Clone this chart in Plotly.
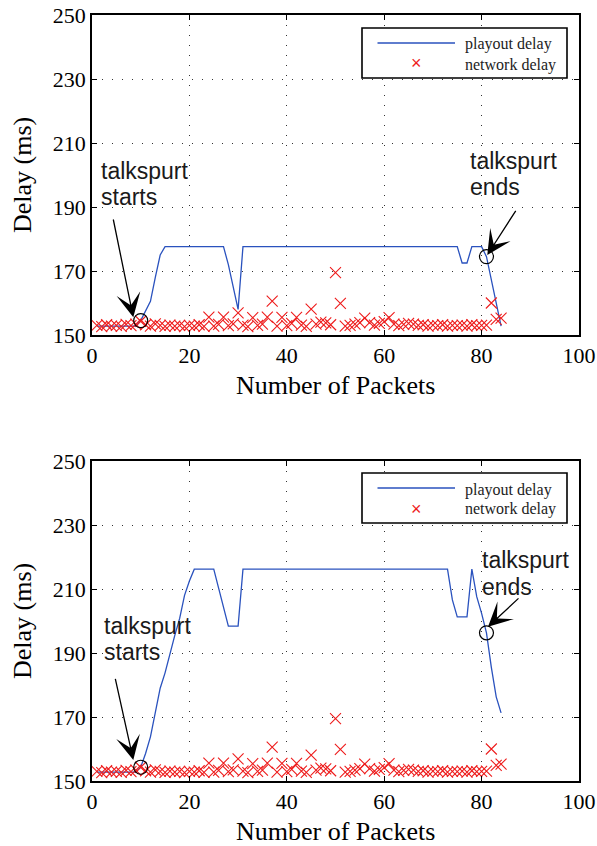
import plotly.graph_objects as go

W, H = 597, 846

# ---------------- data ----------------
packets = list(range(1, 85))

network_delay = [
    153.0, 152.6, 153.2, 152.8, 153.0, 152.7, 153.3, 152.9, 153.4, 154.3,
    153.2, 152.8, 153.5, 153.0, 152.7, 153.1, 152.8, 153.0, 152.6, 153.0,
    152.8, 153.2, 152.7, 155.6, 152.8, 153.3, 155.6, 152.9, 153.5, 156.9,
    153.1, 152.6, 155.4, 153.0, 153.4, 155.6, 160.6, 152.8, 155.5, 152.9,
    153.6, 155.5, 153.1, 152.7, 158.1, 153.4, 154.0, 153.8, 153.2, 169.5,
    159.9, 152.8, 153.0, 153.4, 153.9, 155.3, 153.9, 153.1, 153.6, 154.2,
    155.4, 153.4, 152.9, 153.3, 153.6, 153.4, 153.0, 153.2, 152.8, 153.1,
    152.9, 153.2, 152.8, 153.0, 152.9, 153.1, 152.8, 153.2, 152.9, 153.0,
    153.1, 160.0, 154.9, 155.3,
]

playout_delay_top = [
    152.8, 152.8, 152.8, 152.8, 152.8, 152.8, 152.8, 152.8, 152.8, 154.5,
    157.3, 160.5, 168.0, 175.0, 177.6, 177.6, 177.6, 177.6, 177.6, 177.6,
    177.6, 177.6, 177.6, 177.6, 177.6, 177.6, 177.6, 172.0, 165.0, 158.0,
    177.6, 177.6, 177.6, 177.6, 177.6, 177.6, 177.6, 177.6, 177.6, 177.6,
    177.6, 177.6, 177.6, 177.6, 177.6, 177.6, 177.6, 177.6, 177.6, 177.6,
    177.6, 177.6, 177.6, 177.6, 177.6, 177.6, 177.6, 177.6, 177.6, 177.6,
    177.6, 177.6, 177.6, 177.6, 177.6, 177.6, 177.6, 177.6, 177.6, 177.6,
    177.6, 177.6, 177.6, 177.6, 177.6, 172.5, 172.5, 177.6, 177.6, 177.6,
    174.5, 167.0, 159.5, 152.8,
]

playout_delay_bottom = [
    152.8, 152.8, 152.8, 152.8, 152.8, 152.8, 152.8, 152.8, 152.8, 154.3,
    158.6, 163.8, 171.8, 179.0, 183.8, 190.0, 195.5, 200.8, 208.0, 212.5,
    216.2, 216.2, 216.2, 216.2, 216.2, 210.3, 204.3, 198.4, 198.4, 198.4,
    216.2, 216.2, 216.2, 216.2, 216.2, 216.2, 216.2, 216.2, 216.2, 216.2,
    216.2, 216.2, 216.2, 216.2, 216.2, 216.2, 216.2, 216.2, 216.2, 216.2,
    216.2, 216.2, 216.2, 216.2, 216.2, 216.2, 216.2, 216.2, 216.2, 216.2,
    216.2, 216.2, 216.2, 216.2, 216.2, 216.2, 216.2, 216.2, 216.2, 216.2,
    216.2, 216.2, 216.2, 206.6, 201.3, 201.3, 201.3, 216.2, 207.6, 202.4,
    196.3, 185.5, 176.3, 171.3,
]

talkspurt_packets = [10, 81]

x_ticks = [0, 20, 40, 60, 80, 100]
y_ticks = [150, 170, 190, 210, 230, 250]
legend_labels = ["playout delay", "network delay"]
x_title = "Number of Packets"
y_title = "Delay (ms)"
start_text = ["talkspurt", "starts"]
end_text = ["talkspurt", "ends"]

# ---------------- helpers ----------------
def px(x):
    return x / W


def py(y):
    return 1 - y / H


BLUE = "#2a52be"
RED = "#ee1c1c"
SERIF = "Liberation Serif"
SANS = "Liberation Sans"

fig = go.Figure()

panels = [
    (playout_delay_top, "x", "y"),
    (playout_delay_bottom, "x2", "y2"),
]

for playout, xa, ya in panels:
    fig.add_trace(go.Scatter(
        x=packets, y=playout, mode="lines", xaxis=xa, yaxis=ya,
        line=dict(color=BLUE, width=1.3), name=legend_labels[0], showlegend=False,
    ))
    fig.add_trace(go.Scatter(
        x=packets, y=network_delay, mode="markers", xaxis=xa, yaxis=ya,
        marker=dict(symbol="x-thin-open", size=11, color=RED,
                    line=dict(color=RED, width=1.1)),
        name=legend_labels[1], showlegend=False,
    ))
    fig.add_trace(go.Scatter(
        x=talkspurt_packets,
        y=[playout[packets.index(p)] for p in talkspurt_packets],
        mode="markers", xaxis=xa, yaxis=ya,
        marker=dict(symbol="circle-open", size=14, color="black",
                    line=dict(color="black", width=1.2)),
        showlegend=False, hoverinfo="skip",
    ))

axis_common = dict(
    automargin=False,
    ticks="inside", ticklen=5, tickwidth=1, tickcolor="black",
    showline=True, linecolor="black", linewidth=1.6, mirror="ticks",
    showgrid=True, gridcolor="#333333", gridwidth=1, griddash="1px,9px",
    zeroline=False, fixedrange=True,
    tickfont=dict(family=SERIF, size=22, color="black"),
)

x_dom = [px(92), px(579)]
fig.update_layout(
    width=W, height=H,
    margin=dict(l=0, r=0, t=0, b=0, pad=0, autoexpand=False),
    paper_bgcolor="white", plot_bgcolor="white",
    showlegend=False,
    xaxis=dict(domain=x_dom, range=[0, 100], tickvals=x_ticks, anchor="y", **axis_common),
    yaxis=dict(domain=[py(335), py(15)], range=[150, 250], tickvals=y_ticks, anchor="x", **axis_common),
    xaxis2=dict(domain=x_dom, range=[0, 100], tickvals=x_ticks, anchor="y2", **axis_common),
    yaxis2=dict(domain=[py(781), py(461)], range=[150, 250], tickvals=y_ticks, anchor="x2", **axis_common),
)

annotations = []
shapes = []

# axis titles (x title anchored by its bottom edge so it stays inside the page)
for top, bottom in [(15, 335), (461, 781)]:
    annotations.append(dict(
        xref="paper", yref="paper", x=px(335.5), y=py(bottom + 67),
        text=x_title, showarrow=False, xanchor="center", yanchor="bottom",
        font=dict(family=SERIF, size=26, color="black"),
    ))
    annotations.append(dict(
        xref="paper", yref="paper", x=px(22), y=py((top + bottom) / 2),
        text=y_title, showarrow=False, textangle=-90,
        xanchor="center", yanchor="middle",
        font=dict(family=SERIF, size=26, color="black"),
    ))

# talkspurt labels: (left x, first-line centre y, line gap)
label_specs = [
    (start_text, 99, 171, 26),
    (end_text, 468, 161, 26),
    (start_text, 102, 626, 26),
    (end_text, 480, 560, 27),
]
for lines, lx, ly, gap in label_specs:
    for i, t in enumerate(lines):
        annotations.append(dict(
            xref="paper", yref="paper", x=px(lx), y=py(ly + i * gap),
            text=t, showarrow=False, xanchor="left", yanchor="middle",
            font=dict(family=SANS, size=23, color="#1a1a1a"),
        ))

# arrows: (tail px, tip px)
arrow_specs = [
    ((113, 218), (133.3, 317.3)),
    ((516.7, 209.3), (487.3, 255.0)),
    ((115, 677.3), (133.3, 760.0)),
    ((520, 597), (488, 626.7)),
]
for (tx, ty), (hx, hy) in arrow_specs:
    annotations.append(dict(
        xref="paper", yref="paper", x=px(hx), y=py(hy),
        ax=tx - hx, ay=ty - hy, axref="pixel", ayref="pixel",
        text="", showarrow=True, arrowhead=3, arrowsize=3.1, arrowwidth=1.3,
        arrowcolor="black", standoff=0,
    ))

# legends (drawn boxes)
for top in [28, 473]:
    shapes.append(dict(
        type="rect", xref="paper", yref="paper",
        x0=px(362), x1=px(567), y0=py(top + 50), y1=py(top),
        line=dict(color="black", width=1.6), fillcolor="white", layer="above",
    ))
    shapes.append(dict(
        type="line", xref="paper", yref="paper",
        x0=px(377.5), x1=px(455), y0=py(top + 15), y1=py(top + 15),
        line=dict(color=BLUE, width=1.3), layer="above",
    ))
    annotations.append(dict(
        xref="paper", yref="paper", x=px(416.7), y=py(top + 35.5),
        text="×", showarrow=False, xanchor="center", yanchor="middle",
        font=dict(family=SANS, size=18, color=RED),
    ))
    for i, lab in enumerate(legend_labels):
        annotations.append(dict(
            xref="paper", yref="paper", x=px(463), y=py(top + 16.5 + i * 20),
            text=lab, showarrow=False, xanchor="left", yanchor="middle",
            font=dict(family=SERIF, size=16, color="#222222"),
        ))

fig.update_layout(annotations=annotations, shapes=shapes)

fig.write_html("out.html")
